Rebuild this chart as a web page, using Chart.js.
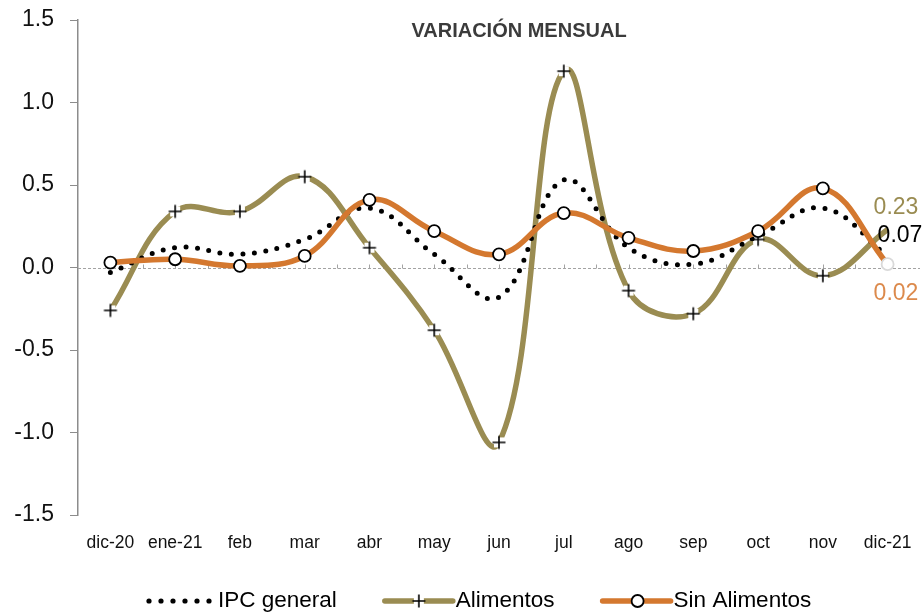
<!DOCTYPE html>
<html>
<head>
<meta charset="utf-8">
<title>Variación mensual</title>
<script src="https://cdn.jsdelivr.net/npm/chart.js@4.4.1/dist/chart.umd.min.js"></script>
<style>
  html, body { margin: 0; padding: 0; background: #fff; }
  #wrap { width: 924px; height: 614px; position: relative; }
</style>
</head>
<body>
<div id="wrap"><canvas id="ipcChart" width="924" height="614"></canvas></div>
<script>
// Data
const months = ['dic-20', 'ene-21', 'feb', 'mar', 'abr', 'may', 'jun', 'jul', 'ago', 'sep', 'oct', 'nov', 'dic-21'];
const ipcGeneral = [-0.03, 0.12, 0.08, 0.17, 0.36, 0.08, -0.18, 0.53, 0.12, 0.02, 0.19, 0.36, 0.07];
const alimentos = [-0.26, 0.34, 0.34, 0.55, 0.12, -0.38, -1.06, 1.19, -0.14, -0.28, 0.17, -0.05, 0.23];
const sinAlimentos = [0.03, 0.05, 0.01, 0.07, 0.41, 0.22, 0.08, 0.33, 0.18, 0.10, 0.22, 0.48, 0.02];
const yTicks = [-1.5, -1.0, -0.5, 0.0, 0.5, 1.0, 1.5];
const seriesNames = ['IPC general', 'Alimentos', 'Sin Alimentos'];
const chartTitle = 'VARIACIÓN MENSUAL';

const FONT = "'Liberation Sans Narrow', 'Arial Narrow', 'Liberation Sans', Arial, sans-serif";
const OLIVE = '#9a8c52';
const ORANGE = '#d4782f';

// plus marker with a white box behind it, like the spreadsheet marker
function makePlus() {
    const c = document.createElement('canvas');
    c.width = 16;
    c.height = 16;
    const g = c.getContext('2d');
    g.fillStyle = '#fff';
    g.fillRect(3, 3, 10, 10);
    g.strokeStyle = '#000';
    g.lineWidth = 1.6;
    g.beginPath();
    g.moveTo(8, 1.5); g.lineTo(8, 14.5);
    g.moveTo(1.5, 8); g.lineTo(14.5, 8);
    g.stroke();
    return c;
}
const plusImg = makePlus();

const lastIdx = months.length - 1;

const extrasPlugin = {
    id: 'extras',
    beforeDatasetsDraw(chart) {
        const ctx = chart.ctx;
        const x = chart.scales.x;
        const y = chart.scales.y;
        const area = chart.chartArea;
        const y0 = Math.round(y.getPixelForValue(0)) + 0.5;
        ctx.save();
        // zero line
        ctx.strokeStyle = '#a3a3a3';
        ctx.lineWidth = 1;
        ctx.setLineDash([3, 2]);
        ctx.beginPath();
        ctx.moveTo(area.left, y0);
        ctx.lineTo(area.right, y0);
        ctx.stroke();
        ctx.setLineDash([]);
        // small tick marks every half category
        const step = (x.getPixelForValue(1) - x.getPixelForValue(0)) / 2;
        ctx.beginPath();
        for (let px = area.left + step; px < area.right - 1; px += step) {
            const rx = Math.round(px) + 0.5;
            ctx.moveTo(rx, y0);
            ctx.lineTo(rx, y0 - 4);
        }
        ctx.stroke();
        ctx.restore();
    },
    afterDraw(chart) {
        const ctx = chart.ctx;
        const x = chart.scales.x;
        const y = chart.scales.y;
        ctx.save();

        // title
        ctx.fillStyle = '#3b3b3b';
        ctx.font = 'bold 20px ' + FONT;
        ctx.textAlign = 'center';
        ctx.textBaseline = 'middle';
        ctx.fillText(chartTitle, 519, 31);

        // end-of-series value labels
        const lx = x.getPixelForValue(lastIdx);
        ctx.font = '23px ' + FONT;
        ctx.textAlign = 'left';
        ctx.fillStyle = OLIVE;
        ctx.fillText(alimentos[lastIdx].toFixed(2), lx - 14, y.getPixelForValue(alimentos[lastIdx]) - 22);
        ctx.fillStyle = '#000';
        ctx.fillText(ipcGeneral[lastIdx].toFixed(2), lx - 10, y.getPixelForValue(ipcGeneral[lastIdx]) - 20);
        ctx.fillStyle = '#dc8a4c';
        ctx.fillText(sinAlimentos[lastIdx].toFixed(2), lx - 14, y.getPixelForValue(sinAlimentos[lastIdx]) + 29);

        // legend
        const ly = 601;
        let cx = 145;
        ctx.font = '22.5px ' + FONT;
        ctx.textBaseline = 'middle';
        seriesNames.forEach((name, i) => {
            if (i === 0) {
                ctx.fillStyle = '#000';
                for (let k = 0; k < 6; k++) {
                    ctx.beginPath();
                    ctx.arc(cx + 4 + k * 12, ly, 2.6, 0, Math.PI * 2);
                    ctx.fill();
                }
            } else {
                ctx.strokeStyle = i === 1 ? OLIVE : ORANGE;
                ctx.lineWidth = 5.5;
                ctx.lineCap = 'round';
                ctx.beginPath();
                ctx.moveTo(cx + 2, ly);
                ctx.lineTo(cx + 70, ly);
                ctx.stroke();
                if (i === 1) {
                    ctx.drawImage(plusImg, cx + 36 - 8, ly - 8);
                } else {
                    ctx.fillStyle = '#fff';
                    ctx.strokeStyle = '#000';
                    ctx.lineWidth = 1.8;
                    ctx.beginPath();
                    ctx.arc(cx + 37, ly, 6, 0, Math.PI * 2);
                    ctx.fill();
                    ctx.stroke();
                }
            }
            cx += 73;
            ctx.fillStyle = '#000';
            ctx.fillText(name, cx, ly);
            cx += ctx.measureText(name).width + 46;
        });
        ctx.restore();
    }
};

const ctx = document.getElementById('ipcChart').getContext('2d');
new Chart(ctx, {
    type: 'line',
    data: {
        labels: months,
        datasets: [{
            label: seriesNames[0],
            data: ipcGeneral,
            borderColor: '#000',
            borderWidth: 5,
            borderDash: [0, 11.5],
            borderCapStyle: 'round',
            pointRadius: 0,
            tension: 0.4,
            order: 1
        }, {
            label: seriesNames[1],
            data: alimentos,
            borderColor: OLIVE,
            borderWidth: 5.5,
            pointStyle: plusImg,
            pointRadius: months.map((m, i) => i === lastIdx ? 0 : 6),
            tension: 0.4,
            order: 2
        }, {
            label: seriesNames[2],
            data: sinAlimentos,
            borderColor: ORANGE,
            borderWidth: 5.5,
            pointStyle: 'circle',
            pointRadius: 6,
            pointBackgroundColor: '#fff',
            pointBorderColor: months.map((m, i) => i === lastIdx ? '#d9d9d9' : '#000'),
            pointBorderWidth: 1.8,
            tension: 0.4,
            order: 0
        }]
    },
    options: {
        responsive: false,
        animation: false,
        layout: {
            autoPadding: false,
            padding: { top: 20, right: 4, left: 0, bottom: 0 }
        },
        plugins: {
            legend: { display: false },
            title: { display: false },
            tooltip: { enabled: false }
        },
        scales: {
            x: {
                offset: true,
                // ticks hidden, but tickLength still pushes the labels down
                grid: { display: false, drawTicks: true, tickLength: 14 },
                border: { display: false },
                ticks: {
                    font: { family: FONT, size: 17.5 },
                    color: '#111',
                    padding: 4,
                    maxRotation: 0,
                    autoSkip: false
                },
                afterFit: s => {
                    s.height = 99;
                    s.paddingLeft = 0;
                    s.paddingRight = 0;
                }
            },
            y: {
                min: -1.5,
                max: 1.5,
                afterBuildTicks: s => { s.ticks = yTicks.map(v => ({ value: v })); },
                ticks: {
                    callback: v => v.toFixed(1),
                    font: { family: FONT, size: 23 },
                    color: '#111',
                    padding: 16
                },
                grid: { drawOnChartArea: false, color: '#8c8c8c', tickLength: 8 },
                border: { color: '#8c8c8c', width: 1.5 },
                afterFit: s => {
                    s.width = 78;
                    s.paddingTop = 0;
                    s.paddingBottom = 0;
                }
            }
        }
    },
    plugins: [extrasPlugin]
});
</script>
</body>
</html>
